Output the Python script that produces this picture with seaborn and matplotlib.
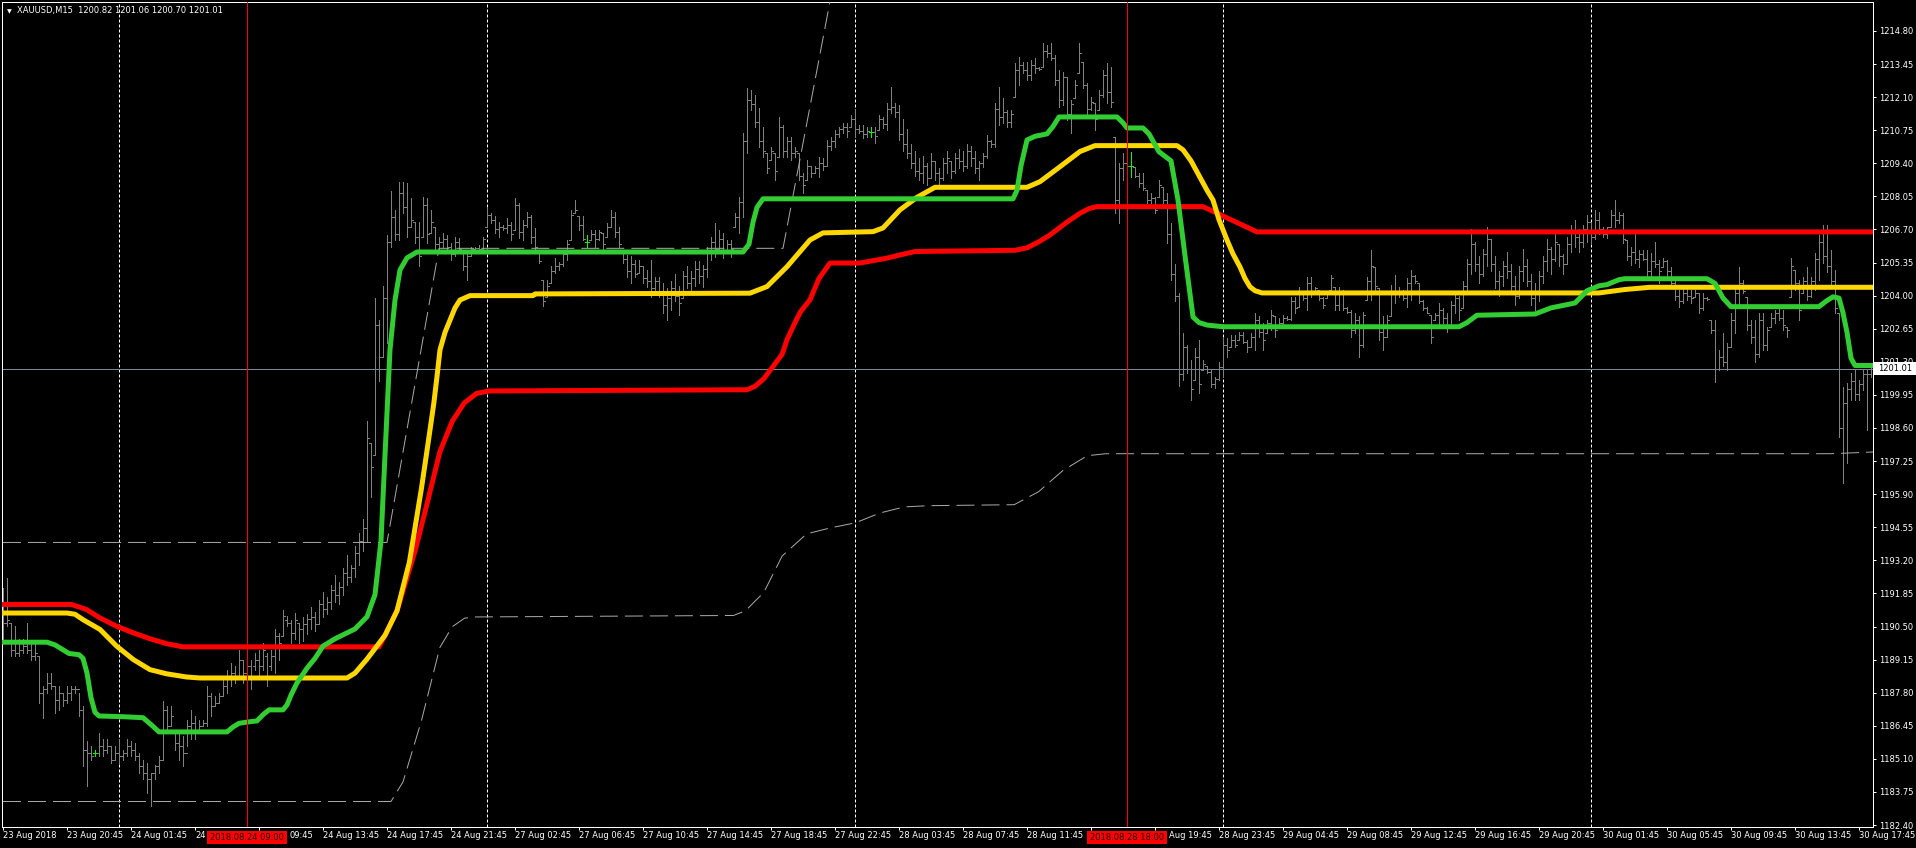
import matplotlib
matplotlib.use("Agg")
import matplotlib.pyplot as plt
from matplotlib.patches import Rectangle
import seaborn as sns
import numpy as np

# ---------------- data ----------------
title_text = "XAUUSD,M15  1200.82 1201.06 1200.70 1201.01"
last_price = 1201.01

# M15 bars, index 0 = first visible bar (23 Aug 2018)
opens = [
    1190.51,1190.65,1190.65,1189.56,1189.42,1189.56,1189.69,1189.56,1189.29,1189.29,
    1187.79,1187.93,1188.20,1188.06,1187.52,1187.79,1187.52,1187.79,1187.93,1187.93,
    1187.11,1185.48,1185.34,1185.34,1185.34,1185.62,1185.48,1185.62,1185.07,1185.34,
    1185.21,1185.34,1185.62,1185.48,1185.21,1184.80,1184.53,1184.26,1184.53,1184.80,
    1185.07,1187.11,1186.43,1186.16,1185.75,1185.62,1185.34,1186.43,1186.57,1186.29,
    1186.43,1186.57,1187.66,1187.25,1187.38,1187.66,1188.06,1188.34,1188.61,1188.47,
    1189.15,1188.61,1188.88,1188.88,1189.15,1188.88,1189.29,1188.88,1189.29,1190.10,
    1190.10,1190.78,1190.65,1190.24,1190.65,
    1190.38,1190.6,1190.8,1190.9,1190.6,1191.4,1191.2,1191.5,1192.0,1191.8,
    1192.1,1192.7,1192.5,1192.9,1193.5,1194.0,1194.5,1198.0,1197.5,1202.8,
    1201.5,1203.9,1206.2,1207.2,1206.5,1208.2,1207.6,1206.82,1207.02,1206.4,
    1206.41,1207.7,1206.55,1206.82,1206.1,1206.2,1206.3,1206.0,1205.7,1206.2,
    1205.87,1205.2,1205.6,1205.9,1205.95,1205.9,1206.82,1207.3,1207.1,1206.7,
    1206.8,1206.75,1206.9,1206.68,1207.7,1206.6,1206.9,1207.2,1206.4,1205.87,
    1204.64,1203.96,1204.51,1205.0,1205.2,1205.3,1205.7,1206.27,1207.36,1207.23,
    1206.9,1206.2,1206.27,1206.5,1206.3,1206.55,1206.41,1206.82,1207.2,1206.6,
    1205.87,1205.5,1205.0,1205.3,1204.91,1205.19,1204.7,1204.6,1204.3,1204.6,
    1204.1,1203.6,1203.9,1204.3,1204.0,1203.9,1204.8,1204.5,1204.7,1205.1,
    1204.8,1205.1,1205.8,1206.2,1205.9,1206.3,1205.87,1206.1,1206.8,1207.2,
    1207.8,1210.3,1212.0,1211.8,1211.1,1210.3,1209.81,1209.54,1209.81,1209.67,
    1210.9,1209.9,1210.3,1209.8,1209.81,1208.9,1208.72,1209.27,1209.0,1209.2,
    1209.4,1209.3,1210.1,1210.3,1210.6,1210.8,1210.9,1210.9,1211.2,1210.8,
    1210.7,1210.6,1210.67,1210.67,1210.76,1211.2,1211.0,1211.6,1211.7,1211.5,
    1210.6,1210.2,1209.8,1209.4,1209.1,1209.0,1209.3,1208.8,1209.5,1209.0,
    1208.8,1209.4,1209.5,1209.1,1209.6,1209.5,1209.3,1209.9,1209.6,1209.2,
    1209.4,1209.7,1210.3,1210.2,1211.6,1211.3,1211.5,1211.1,1212.12,1213.2,
    1213.4,1213.2,1213.0,1213.4,1213.3,1213.34,1214.0,1213.9,1213.7,1212.8,
    1212.0,1212.9,1211.4,1212.05,1213.07,1213.55,1212.6,1211.6,1211.85,1211.58,
    1212.2,1213.0,1212.3,1210.49,1207.9,1209.2,1209.4,1209.3,1209.26,1208.9,
    1208.6,1208.31,1207.9,1208.0,1208.04,1208.45,1207.9,1206.5,1204.9,1204.0,
    1200.8,1201.9,1201.0,1200.56,1201.5,1200.97,1201.11,1200.9,1200.4,1200.6,
    1201.1,1202.0,1201.92,1202.2,1202.19,1202.4,1202.1,1201.92,1202.3,1203.0,
    1202.5,1202.47,1202.9,1203.15,1202.74,1202.9,1203.1,1203.05,1203.8,1203.55,
    1204.1,1203.9,1204.5,1204.2,1204.23,1203.9,1203.9,1204.23,1204.37,1203.6,
    1204.2,1203.5,1203.35,1202.6,1203.0,1202.0,1203.83,1204.6,1205.18,1204.3,
    1202.5,1202.33,1203.15,1204.2,1204.1,1204.2,1203.9,1204.5,1204.8,1204.5,
    1203.8,1203.5,1203.21,1203.01,1203.2,1203.4,1203.1,1202.8,1203.6,1203.9,
    1203.5,1204.4,1205.3,1206.1,1205.3,1204.9,1205.7,1206.3,1205.3,1204.6,
    1204.8,1205.2,1205.0,1204.4,1204.0,1205.0,1205.2,1204.6,1203.9,1204.2,
    1204.8,1205.4,1205.9,1205.5,1206.1,1205.6,1205.3,1206.1,1206.6,1206.4,
    1206.2,1206.7,1207.0,1206.4,1207.1,1206.7,1206.5,1206.82,1207.3,1207.1,
    1207.3,1206.27,1205.6,1205.8,1205.5,1205.7,1205.5,1205.0,1205.4,1205.3,
    1205.18,1205.4,1205.0,1204.5,1204.0,1203.8,1204.1,1204.0,1203.96,1204.1,
    1203.5,1203.9,1203.01,1202.6,1201.0,1201.5,1201.3,1201.92,1203.0,1204.1,
    1204.5,1203.96,1202.8,1202.3,1201.6,1203.0,1202.0,1202.74,1203.1,1203.3,
    1203.1,1202.74,1203.96,1205.05,1204.5,1204.1,1204.6,1204.0,1204.6,1205.5,
    1206.2,1205.6,1205.2,1204.6,1203.28,1198.6,1199.6,1200.2,1200.5,1200.0,
    1200.4,1200.8,1200.82]
highs = [
    1192.07,1192.46,1190.65,1190.51,1189.97,1189.97,1190.65,1189.83,1189.83,1189.29,
    1188.06,1188.61,1188.61,1188.06,1188.06,1187.79,1188.06,1188.06,1188.06,1187.79,
    1187.25,1185.82,1185.62,1185.48,1186.16,1185.89,1185.89,1185.62,1185.62,1185.89,
    1185.48,1185.89,1185.82,1185.75,1185.34,1185.07,1184.94,1184.53,1184.87,1185.21,
    1187.45,1187.25,1187.25,1186.16,1186.16,1186.02,1186.70,1187.11,1186.84,1186.70,
    1186.70,1188.06,1187.79,1187.66,1187.79,1188.34,1188.74,1189.02,1188.88,1189.56,
    1189.15,1189.29,1189.15,1189.42,1189.56,1189.83,1189.42,1189.56,1190.38,1190.24,
    1191.19,1190.92,1190.78,1191.05,1190.65,
    1190.9,1191.0,1191.3,1191.1,1191.6,1191.9,1191.7,1192.2,1192.6,1192.3,
    1192.9,1193.4,1193.0,1193.8,1194.3,1194.9,1198.9,1198.0,1203.9,1203.0,
    1204.4,1206.48,1208.25,1207.5,1208.63,1208.63,1208.59,1207.97,1207.02,1207.02,
    1208.04,1207.97,1207.5,1206.82,1206.41,1206.55,1206.48,1206.14,1206.41,1206.34,
    1205.87,1205.73,1206.0,1206.0,1206.07,1206.41,1207.63,1207.36,1207.23,1207.02,
    1206.89,1207.16,1207.02,1207.97,1207.77,1207.09,1207.43,1207.3,1206.75,1205.87,
    1204.64,1204.64,1205.19,1205.53,1205.39,1205.87,1206.27,1207.5,1207.91,1207.23,
    1207.23,1206.48,1206.68,1206.68,1206.68,1206.55,1206.95,1207.5,1207.43,1206.82,
    1205.87,1205.66,1205.6,1205.46,1205.46,1205.19,1205.05,1205.46,1204.78,1204.78,
    1204.5,1204.3,1204.6,1204.9,1204.4,1205.0,1205.2,1205.0,1205.4,1205.4,
    1205.25,1206.0,1206.41,1206.95,1206.68,1206.55,1206.27,1206.27,1207.36,1208.04,
    1210.63,1212.46,1212.39,1212.19,1211.65,1210.9,1209.81,1210.08,1209.81,1211.3,
    1210.96,1210.49,1210.49,1210.08,1209.81,1208.99,1209.54,1209.27,1209.27,1209.67,
    1209.6,1210.35,1210.49,1210.76,1210.9,1211.03,1211.03,1211.37,1211.58,1210.96,
    1210.96,1210.9,1210.86,1210.9,1211.37,1211.3,1211.85,1212.53,1211.85,1211.78,
    1211.2,1210.8,1210.2,1209.9,1209.6,1209.7,1209.4,1209.8,1209.5,1209.2,
    1209.6,1209.9,1209.5,1209.8,1210.0,1209.9,1210.2,1210.1,1209.9,1209.5,
    1209.8,1210.55,1210.35,1211.85,1212.53,1212.05,1211.58,1211.58,1213.48,1213.75,
    1213.55,1213.55,1213.62,1213.68,1213.34,1214.3,1214.23,1214.3,1213.82,1213.21,
    1213.14,1212.94,1211.98,1212.8,1214.3,1213.55,1212.66,1212.12,1211.85,1212.39,
    1213.21,1213.48,1213.34,1210.49,1209.4,1209.81,1209.54,1209.87,1209.26,1208.99,
    1208.99,1208.31,1208.18,1208.04,1208.72,1208.45,1208.18,1206.95,1205.3,1204.1,
    1202.47,1201.99,1201.38,1201.85,1202.19,1201.38,1201.11,1200.97,1200.7,1201.31,
    1202.26,1202.26,1202.4,1202.4,1202.53,1202.53,1202.19,1202.47,1203.28,1203.15,
    1202.87,1203.01,1203.42,1203.15,1203.08,1203.21,1203.15,1203.96,1203.96,1204.37,
    1204.1,1204.78,1204.78,1204.37,1204.23,1203.96,1204.17,1204.85,1204.37,1204.37,
    1204.23,1203.55,1203.42,1203.28,1203.15,1203.35,1204.78,1205.86,1205.18,1204.3,
    1203.15,1203.21,1204.44,1204.85,1204.37,1204.23,1204.71,1205.05,1204.85,1204.5,
    1203.83,1203.55,1203.21,1203.28,1203.69,1203.5,1203.3,1203.8,1204.2,1204.0,
    1204.6,1205.5,1206.7,1206.2,1205.6,1205.9,1206.8,1206.3,1205.6,1205.0,
    1205.4,1205.8,1205.3,1204.8,1205.2,1205.9,1205.5,1204.9,1204.5,1205.0,
    1205.6,1206.3,1206.0,1206.6,1206.1,1205.7,1206.4,1206.9,1207.1,1206.7,
    1206.9,1207.3,1207.0,1207.5,1207.4,1206.82,1206.82,1207.5,1207.9,1207.43,
    1207.36,1206.27,1206.0,1206.54,1205.86,1205.86,1205.86,1205.73,1206.2,1205.46,
    1205.52,1205.46,1205.18,1204.64,1204.23,1204.3,1204.37,1204.23,1204.23,1204.1,
    1204.1,1203.96,1203.01,1203.01,1201.78,1202.47,1202.06,1203.28,1204.37,1205.18,
    1204.64,1203.96,1203.01,1203.01,1203.28,1203.28,1202.74,1203.28,1203.42,1203.49,
    1203.42,1202.74,1205.52,1205.05,1204.64,1204.78,1205.18,1204.78,1205.73,1206.48,
    1206.88,1206.88,1205.86,1205.05,1203.28,1200.29,1200.43,1200.83,1200.97,1200.56,
    1200.97,1200.97,1201.06]
lows = [
    1189.83,1190.51,1189.29,1189.29,1189.29,1189.42,1189.42,1189.15,1189.15,1187.38,
    1186.77,1187.79,1187.93,1186.98,1187.11,1187.25,1187.38,1187.52,1187.79,1186.84,
    1184.80,1183.99,1185.07,1185.21,1185.21,1185.21,1185.34,1184.94,1185.07,1184.94,
    1185.07,1185.21,1185.21,1185.07,1184.53,1184.26,1183.71,1183.17,1184.26,1184.53,
    1185.07,1186.16,1186.43,1185.48,1185.07,1184.80,1185.62,1185.89,1185.89,1186.16,
    1186.43,1186.43,1186.84,1187.25,1187.38,1187.66,1187.79,1188.06,1188.20,1188.47,
    1188.20,1188.34,1187.93,1188.74,1188.47,1188.74,1188.06,1188.74,1188.61,1189.15,
    1190.10,1190.51,1189.83,1189.97,1189.83,
    1189.9,1190.2,1190.4,1190.3,1190.6,1190.9,1191.0,1191.2,1191.5,1191.4,
    1191.8,1192.2,1192.3,1192.5,1193.0,1193.6,1194.0,1195.8,1197.5,1200.5,
    1201.5,1202.06,1206.0,1206.27,1206.27,1207.36,1206.41,1206.82,1206.14,1205.19,
    1206.41,1206.14,1206.55,1205.87,1205.87,1206.0,1205.87,1205.46,1205.6,1205.87,
    1205.05,1204.64,1205.6,1205.87,1205.87,1205.87,1206.82,1206.95,1206.55,1206.41,
    1206.68,1206.55,1206.27,1206.68,1206.34,1206.27,1206.82,1206.14,1205.87,1205.32,
    1203.56,1203.96,1204.51,1204.91,1205.05,1205.19,1205.46,1206.27,1207.36,1206.68,
    1206.27,1206.0,1206.27,1206.0,1206.27,1205.87,1206.41,1206.82,1206.41,1206.0,
    1205.32,1204.78,1204.51,1204.78,1204.91,1204.51,1204.37,1203.96,1204.24,1203.96,
    1203.3,1203.0,1203.4,1203.8,1203.2,1203.9,1204.3,1204.1,1204.4,1204.5,
    1204.37,1204.78,1205.46,1205.59,1205.73,1205.52,1205.87,1205.59,1206.8,1206.55,
    1207.22,1209.81,1211.58,1210.9,1210.08,1209.67,1208.99,1209.54,1208.72,1209.67,
    1209.67,1209.67,1209.54,1209.67,1208.72,1208.18,1208.72,1208.86,1208.99,1208.86,
    1209.13,1209.27,1209.95,1210.08,1210.49,1210.63,1210.49,1210.9,1210.49,1210.63,
    1210.42,1210.49,1210.49,1210.22,1210.76,1210.83,1210.76,1211.44,1211.3,1210.35,
    1209.9,1209.6,1209.2,1208.9,1208.7,1208.6,1208.5,1208.8,1208.7,1208.5,
    1208.7,1209.0,1208.8,1209.0,1209.2,1209.1,1209.2,1209.3,1209.0,1208.7,
    1209.26,1209.6,1210.08,1210.08,1210.96,1211.03,1210.9,1210.9,1212.12,1212.6,
    1213.07,1212.8,1212.8,1213.07,1213.21,1213.34,1213.75,1213.62,1212.6,1211.71,
    1211.78,1211.17,1210.62,1212.05,1213.07,1212.46,1211.3,1211.58,1210.76,1211.58,
    1212.12,1211.85,1211.71,1207.36,1206.95,1208.72,1209.13,1208.86,1208.86,1208.45,
    1208.31,1207.77,1207.77,1207.36,1208.04,1207.77,1206.14,1204.64,1203.8,1200.3,
    1200.56,1200.83,1199.75,1200.56,1200.02,1200.97,1200.83,1200.29,1200.22,1200.56,
    1200.7,1201.51,1201.92,1201.92,1202.19,1202.06,1201.72,1201.92,1201.78,1202.33,
    1201.78,1202.47,1202.6,1202.33,1202.74,1202.74,1203.01,1203.01,1203.28,1203.55,
    1203.83,1203.42,1203.96,1204.1,1203.83,1203.49,1203.9,1204.23,1203.42,1203.42,
    1203.42,1203.28,1202.33,1202.47,1201.51,1201.92,1203.83,1203.83,1204.23,1202.19,
    1201.78,1202.33,1203.15,1203.69,1203.96,1203.83,1203.55,1203.83,1204.5,1203.69,
    1203.42,1203.28,1202.06,1203.01,1202.74,1202.9,1202.5,1202.8,1203.3,1203.0,
    1203.5,1204.1,1204.9,1205.0,1204.5,1204.8,1205.2,1205.0,1204.3,1204.0,
    1204.4,1204.7,1204.2,1203.6,1203.9,1204.6,1204.4,1203.6,1203.4,1203.8,
    1204.5,1205.0,1204.9,1205.4,1205.2,1204.9,1205.3,1205.8,1206.0,1205.8,
    1206.0,1206.2,1206.1,1206.3,1206.5,1206.41,1206.34,1206.82,1206.82,1206.95,
    1206.14,1205.46,1205.25,1205.32,1205.18,1205.46,1204.78,1204.78,1205.18,1204.5,
    1205.18,1204.78,1204.37,1203.83,1203.55,1203.69,1203.83,1203.69,1203.96,1203.28,
    1203.42,1203.83,1202.47,1200.49,1200.97,1201.11,1200.97,1201.92,1202.47,1203.55,
    1204.1,1202.6,1202.06,1201.31,1201.51,1201.78,1201.78,1202.74,1202.87,1203.01,
    1202.6,1202.33,1203.96,1204.23,1203.01,1204.1,1203.83,1203.96,1204.23,1204.64,
    1205.32,1204.98,1204.37,1203.28,1198.25,1196.35,1197.16,1199.75,1199.75,1199.75,
    1200.15,1198.52,1200.70]
closes = [
    1190.65,1190.78,1189.56,1189.42,1189.56,1189.69,1189.56,1189.29,1189.42,1187.79,
    1187.93,1188.20,1188.06,1187.52,1187.79,1187.52,1187.79,1187.93,1187.93,1187.11,
    1185.48,1185.34,1185.21,1185.34,1185.62,1185.48,1185.62,1185.07,1185.34,1185.21,
    1185.34,1185.62,1185.48,1185.21,1184.80,1184.53,1184.26,1184.53,1184.80,1185.07,
    1187.11,1186.43,1186.84,1185.75,1185.62,1185.34,1186.43,1186.57,1186.29,1186.43,
    1186.57,1187.66,1187.25,1187.38,1187.66,1188.06,1188.34,1188.61,1188.47,1189.15,
    1188.61,1188.88,1188.34,1189.15,1188.88,1189.56,1188.47,1189.29,1190.10,1189.83,
    1190.92,1190.65,1190.24,1190.78,1190.38,
    1190.6,1190.8,1190.9,1190.6,1191.4,1191.2,1191.5,1192.0,1191.8,1192.1,
    1192.7,1192.5,1192.9,1193.5,1194.0,1194.5,1198.2,1197.0,1202.8,1201.5,
    1203.9,1206.2,1207.2,1206.5,1208.2,1207.6,1206.8,1207.1,1206.4,1205.6,
    1207.7,1206.5,1207.0,1206.1,1206.2,1206.3,1206.0,1205.7,1206.2,1205.9,
    1205.2,1205.6,1205.9,1205.95,1205.9,1206.3,1207.3,1207.1,1206.7,1206.8,
    1206.75,1206.9,1206.5,1207.7,1206.6,1206.9,1207.2,1206.4,1206.0,1205.4,
    1203.8,1204.4,1205.0,1205.2,1205.3,1205.7,1206.1,1207.3,1207.5,1206.9,
    1206.3,1206.2,1206.5,1206.3,1206.6,1206.1,1206.8,1207.2,1206.6,1206.1,
    1205.5,1205.0,1205.3,1204.9,1205.2,1204.7,1204.6,1204.3,1204.6,1204.1,
    1203.6,1203.9,1204.3,1204.0,1203.7,1204.8,1204.5,1204.7,1205.1,1204.8,
    1205.1,1205.8,1206.2,1205.9,1206.3,1205.8,1206.1,1205.9,1207.2,1207.8,
    1210.3,1212.0,1211.8,1211.1,1210.3,1209.9,1209.2,1209.9,1209.1,1210.9,
    1209.9,1210.3,1209.8,1209.9,1208.9,1208.5,1209.3,1209.0,1209.2,1209.4,
    1209.3,1210.1,1210.3,1210.6,1210.8,1210.9,1210.7,1211.2,1210.8,1210.7,
    1210.6,1210.7,1210.67,1210.5,1211.2,1211.0,1211.6,1211.7,1211.5,1210.6,
    1210.2,1209.8,1209.4,1209.1,1209.0,1209.3,1208.8,1209.5,1209.0,1208.8,
    1209.4,1209.6,1209.1,1209.6,1209.5,1209.3,1209.9,1209.6,1209.2,1209.4,
    1209.7,1210.3,1210.2,1211.6,1211.3,1211.5,1211.1,1211.4,1213.2,1213.4,
    1213.2,1213.0,1213.4,1213.3,1213.25,1214.0,1213.9,1213.7,1212.8,1212.0,
    1212.9,1211.4,1211.8,1212.6,1213.9,1212.6,1211.6,1211.9,1211.2,1212.2,
    1213.0,1212.3,1211.9,1207.9,1209.2,1209.4,1209.3,1209.3,1208.9,1208.6,
    1208.4,1207.9,1208.0,1207.5,1208.5,1207.9,1206.5,1204.9,1204.0,1200.8,
    1201.9,1201.0,1200.2,1201.5,1200.4,1201.2,1200.9,1200.4,1200.6,1201.1,
    1202.0,1201.8,1202.2,1202.0,1202.4,1202.1,1201.9,1202.3,1203.0,1202.5,
    1202.2,1202.9,1203.2,1202.6,1202.9,1203.1,1203.05,1203.8,1203.5,1204.2,
    1203.9,1204.5,1204.2,1204.3,1203.9,1203.6,1204.1,1204.7,1203.6,1204.2,
    1203.5,1203.35,1202.6,1203.0,1202.0,1203.2,1204.6,1205.2,1204.4,1202.5,
    1202.3,1203.0,1204.2,1204.1,1204.2,1203.9,1204.5,1204.8,1204.6,1203.8,
    1203.5,1203.3,1202.3,1203.2,1203.4,1203.1,1202.8,1203.6,1203.9,1203.4,
    1204.4,1205.3,1206.1,1205.3,1204.9,1205.7,1206.3,1205.3,1204.6,1204.8,
    1205.2,1205.0,1204.4,1204.0,1205.0,1205.2,1204.6,1203.9,1204.2,1204.8,
    1205.4,1205.9,1205.5,1206.2,1205.6,1205.3,1206.1,1206.6,1206.4,1206.2,
    1206.7,1207.0,1206.4,1207.1,1206.7,1206.5,1206.8,1207.3,1207.1,1207.3,
    1206.3,1205.6,1205.8,1205.5,1205.7,1205.5,1205.0,1205.4,1205.3,1205.0,
    1205.4,1205.0,1204.5,1204.0,1203.8,1204.1,1204.0,1203.9,1204.1,1203.5,
    1203.9,1203.85,1202.6,1201.0,1201.5,1201.3,1201.9,1203.0,1204.1,1204.5,
    1204.2,1202.8,1202.3,1201.6,1203.0,1202.0,1202.6,1203.1,1203.3,1203.1,
    1202.8,1202.6,1205.2,1204.5,1203.4,1204.6,1204.0,1204.6,1205.5,1206.2,
    1205.6,1205.2,1204.6,1203.5,1198.6,1199.6,1200.2,1200.5,1200.0,1200.4,
    1200.8,1200.82,1201.01]

# indicator lines: vertices (bar index, price)
green_x = [0,11,13,15,16.5,19,20,21,22,23,24,30,35,37,39,56,57.5,59,61,63.5,65,66.5,70,71,72,73.5,
           76,78,80,83,88,91,93,94.5,95.5,96.75,98,99.25,101,103.5,185,186.5,187.5,188.5,190,
           252.5,253.5,254.5,256,258,261,262.5,264,278.5,280,281,285,286.5,289,292,293.75,295.6,
           297.5,299,301,305,364,366,368.5,383,387,393,396,399,401,404,405.5,426,428,430,432,
           454,456,457.5,459,460,461,462,463,467.5]
green_y = [1189.86,1189.86,1189.75,1189.55,1189.40,1189.35,1189.2,1188.6,1187.6,1187.0,1186.85,1186.82,
           1186.78,1186.5,1186.2,1186.2,1186.4,1186.55,1186.6,1186.65,1186.9,1187.1,1187.1,1187.3,
           1187.7,1188.2,1188.8,1189.2,1189.7,1190.0,1190.4,1190.9,1191.8,1194.0,1197.5,1201.8,
           1203.82,1205.05,1205.54,1205.78,1205.78,1206.1,1207.0,1207.6,1207.95,1207.95,1208.3,
           1209.3,1210.35,1210.5,1210.6,1210.9,1211.29,1211.29,1211.05,1210.84,1210.84,1210.6,
           1209.87,1209.5,1207.9,1205.5,1203.13,1202.9,1202.8,1202.73,1202.73,1202.9,1203.2,
           1203.25,1203.5,1203.7,1204.2,1204.4,1204.45,1204.65,1204.69,1204.69,1204.5,1203.9,
           1203.55,1203.55,1203.8,1203.95,1203.9,1203.3,1202.5,1201.45,1201.15,1201.15]

yellow_x = [0,16,18,20,24.25,28.4,32.6,36.75,40.9,45.9,49.25,86,88,90.9,93,95.5,98.5,101.6,104.6,
            106.2,107.7,108.5,109.25,110.5,111.75,113,114.25,116.75,132.5,133,186.75,191,196,
            201.75,205,217.5,220,224.25,228.4,233,256,259.25,264.25,269.25,273,293.5,295,297,
            299,301,302.5,304,306,307.5,309.25,310.5,311.75,313,314.75,399,405.5,411.75,467.5]
yellow_y = [1191.05,1191.05,1191.0,1190.78,1190.38,1189.7,1189.15,1188.74,1188.57,1188.44,1188.4,
            1188.4,1188.6,1189.15,1189.6,1190.14,1191.14,1193.13,1196.12,1197.9,1199.6,1200.7,
            1201.79,1202.5,1203.0,1203.5,1203.82,1204.0,1204.0,1204.07,1204.1,1204.37,1205.18,
            1206.27,1206.56,1206.61,1206.76,1207.5,1208.0,1208.42,1208.42,1208.65,1209.26,1209.88,
            1210.12,1210.12,1209.95,1209.5,1208.9,1208.3,1207.9,1207.1,1206.27,1205.7,1205.17,
            1204.7,1204.36,1204.2,1204.11,1204.11,1204.25,1204.34,1204.34]

red_x = [0,17,19,20.9,24.25,28.4,32.6,36.75,40.9,45,94,95.5,98.5,103.1,106.2,109.2,112.3,115.3,
         118.4,121.5,186,188,190.2,192,194.8,196,198,199.4,201.75,204,206.75,214.25,221,224.25,
         228,253,256,259,261.5,263.4,266,269.25,271.5,273.4,300,313.5,467.5]
red_y = [1191.4,1191.4,1191.3,1191.19,1190.85,1190.51,1190.24,1190.0,1189.8,1189.67,1189.67,
         1190.14,1191.14,1193.63,1195.63,1197.62,1198.87,1199.62,1200.01,1200.11,1200.16,1200.3,
         1200.61,1201.0,1201.61,1202.2,1202.9,1203.35,1203.83,1204.7,1205.33,1205.33,1205.53,
         1205.66,1205.8,1205.85,1205.95,1206.2,1206.45,1206.68,1207.0,1207.36,1207.55,1207.63,
         1207.63,1206.6,1206.6]

lower_dash_x = [0,97,100,104.6,109.2,112.3,115.4,118,182.6,185.6,190.2,194.8,200.9,207,213.1,
                219.2,225.3,231.4,252.8,258.9,265,271.1,275.7,457,467.5]
lower_dash_y = [1183.36,1183.36,1184.16,1186.65,1189.64,1190.49,1190.84,1190.89,1190.95,1191.14,
                1191.89,1193.38,1194.28,1194.53,1194.73,1195.13,1195.38,1195.43,1195.47,1196.0,
                1196.87,1197.47,1197.55,1197.55,1197.62]

upper_dash_x = [0, 96, 109, 195, 212]
upper_dash_y = [1193.93, 1193.93, 1205.93, 1205.93, 1220.5]

doji_bars = [23, 146, 217, 282]
day_separators = [29, 121, 213, 305, 397]
marker_bars = [61, 281]
marker_labels = ["2018.08.24 09:00", "2018.08.28 18:00"]

# x-axis time labels every 16 bars; labels partly hidden by the red time boxes keep
# only their visible part (as in the terminal)
xtick_bars = list(range(0, 465, 16))
xtick_labels = ["23 Aug 2018", "23 Aug 20:45", "24 Aug 01:45", "24", "",
                "24 Aug 13:45", "24 Aug 17:45", "24 Aug 21:45", "27 Aug 02:45", "27 Aug 06:45",
                "27 Aug 10:45", "27 Aug 14:45", "27 Aug 18:45", "27 Aug 22:45", "28 Aug 03:45",
                "28 Aug 07:45", "28 Aug 11:45", "", "", "28 Aug 23:45",
                "29 Aug 04:45", "29 Aug 08:45", "29 Aug 12:45", "29 Aug 16:45", "29 Aug 20:45",
                "30 Aug 01:45", "30 Aug 05:45", "30 Aug 09:45", "30 Aug 13:45", "30 Aug 17:45"]
partial_labels = [(290, "09:45"), (1169, "Aug 19:45")]  # (pixel x, visible text)
ytick_values = [1182.40 + 1.35 * k for k in range(25)]

# ---------------- style ----------------
sns.set_theme(style="dark", rc={"axes.facecolor": "black", "figure.facecolor": "black"})
plt.rcParams["font.family"] = ["DejaVu Sans"]

W, H = 1916, 848
fig = plt.figure(figsize=(W / 100, H / 100), dpi=100, facecolor="black")
ax = fig.add_axes([2 / W, 21 / H, 1871 / W, 825 / H])
ax.set_facecolor("black")
ax.grid(False)
PX = 0.72  # one pixel in points

# day separators
for b in day_separators:
    ax.axvline(b, color="white", lw=PX, linestyle=(0, (3, 2)), zorder=1)

# bid line
ax.axhline(last_price, color="#778899", lw=PX, zorder=1.5)

# OHLC bars
n = min(len(opens), len(highs), len(lows), len(closes))
xs = np.arange(n)
O = np.array(opens[:n]); Hh = np.array(highs[:n]); L = np.array(lows[:n]); C = np.array(closes[:n])
normal = [i for i in range(n) if i not in doji_bars]
for idx, col in ((normal, "#808080"), ([d for d in doji_bars if d < n], "#00ff00")):
    xi = xs[idx]
    ax.vlines(xi, L[idx], Hh[idx], color=col, lw=PX, antialiased=False, zorder=2)
    ax.hlines(O[idx], xi - 0.5, xi, color=col, lw=PX, antialiased=False, zorder=2)
    ax.hlines(C[idx], xi, xi + 0.5, color=col, lw=PX, antialiased=False, zorder=2)

# dashed grey envelope lines
for lx, ly in ((lower_dash_x, lower_dash_y), (upper_dash_x, upper_dash_y)):
    sns.lineplot(x=lx, y=ly, ax=ax, color="#a8a8a8", lw=PX, linestyle=(0, (18, 7)), zorder=3)

# coloured lines
sns.lineplot(x=red_x, y=red_y, ax=ax, color="#ff0000", lw=3.6, zorder=4)
sns.lineplot(x=yellow_x, y=yellow_y, ax=ax, color="#ffd700", lw=3.6, zorder=5)
sns.lineplot(x=green_x, y=green_y, ax=ax, color="#32cd32", lw=3.6, zorder=6)

# red vertical marker lines
for b in marker_bars:
    ax.axvline(b, color="#ff0000", lw=PX, zorder=7)

ax.set_xlim(-0.25, 467.5)
ax.set_ylim(1182.32, 1215.98)
ax.set_xlabel("")
ax.set_ylabel("")

for s in ax.spines.values():
    s.set_color("white")
    s.set_linewidth(PX)
    s.set_visible(True)

ax.yaxis.tick_right()
ax.set_yticks(ytick_values)
ax.set_yticklabels([f"{v:.2f}" for v in ytick_values])
ax.set_xticks(xtick_bars)
ax.set_xticklabels(xtick_labels)
ax.tick_params(axis="both", colors="white", direction="out", length=2.2, width=PX, labelsize=6)
ax.tick_params(axis="y", pad=2, left=False, right=True)
ax.tick_params(axis="x", pad=0.6, bottom=True)
for lbl in ax.get_xticklabels():
    lbl.set_horizontalalignment("left")

label_top = 827 + 2.2 / 0.72 + 0.6 / 0.72
for px_, t in partial_labels:
    fig.text(px_ / W, 1 - label_top / H, t, color="white", fontsize=6, ha="left", va="top")

# title
fig.text(7 / W, 1 - 11.5 / H, "\u25bc", color="white", fontsize=4.5, ha="left", va="center")
fig.text(17 / W, 1 - 11 / H, title_text, color="white", fontsize=6, ha="left", va="center")

# last price box
def price_to_py(p):
    return 2 + (1215.98 - p) / (1215.98 - 1182.32) * 825

py = price_to_py(last_price)
fig.patches.append(Rectangle((1874 / W, 1 - (py + 6.5) / H), 42 / W, 13 / H,
                             transform=fig.transFigure, fc="white", ec="none", zorder=5))
fig.text(1878 / W, 1 - py / H, f"{last_price:.2f}", color="black", fontsize=6,
         ha="left", va="center", zorder=6)

# red time boxes on the x-axis
for b, t in zip(marker_bars, marker_labels):
    px = 3 + 4 * b
    fig.patches.append(Rectangle(((px - 40) / W, 1 - 844 / H), 80 / W, 13 / H,
                                 transform=fig.transFigure, fc="#ff0000", ec="none", zorder=5))
    fig.text(px / W, 1 - 837.5 / H, t, color="#200000", fontsize=6, ha="center", va="center", zorder=6)

fig.savefig("out.png", dpi=100, facecolor="black")
